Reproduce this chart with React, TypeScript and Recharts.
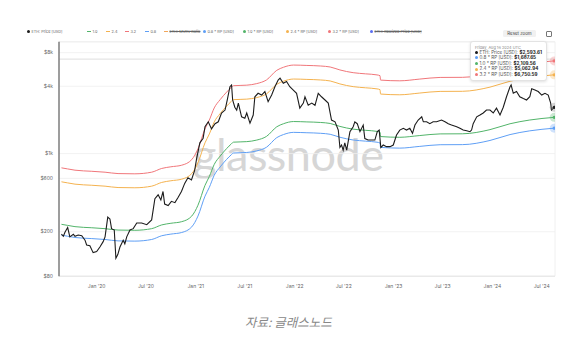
import React from 'react'
import { LineChart, Line, XAxis, YAxis, CartesianGrid, ReferenceLine } from 'recharts'

// ETH price [USD], every 10-12 days
const PRICE_DATES = [
  '2019-08-24', '2019-08-31', '2019-09-06', '2019-09-16', '2019-09-24', '2019-10-07', '2019-10-13', '2019-10-25',
  '2019-11-07', '2019-11-19', '2019-11-25', '2019-12-07', '2019-12-19', '2020-01-01', '2020-01-13', '2020-01-25',
  '2020-02-01', '2020-02-11', '2020-02-19', '2020-02-25', '2020-03-06', '2020-03-12', '2020-03-19', '2020-03-27',
  '2020-04-08', '2020-04-14', '2020-04-21', '2020-05-03', '2020-05-15', '2020-05-28', '2020-06-15', '2020-07-04',
  '2020-07-22', '2020-08-03', '2020-08-15', '2020-08-25', '2020-09-02', '2020-09-08', '2020-09-21', '2020-10-03',
  '2020-10-16', '2020-10-28', '2020-11-09', '2020-11-21', '2020-12-03', '2020-12-16', '2020-12-28', '2021-01-04',
  '2021-01-16', '2021-01-28', '2021-02-04', '2021-02-16', '2021-02-28', '2021-03-13', '2021-03-25', '2021-04-06',
  '2021-04-19', '2021-04-27', '2021-05-07', '2021-05-13', '2021-05-17', '2021-05-25', '2021-06-01', '2021-06-07',
  '2021-06-19', '2021-07-01', '2021-07-08', '2021-07-20', '2021-08-01', '2021-08-07', '2021-08-19', '2021-09-01',
  '2021-09-13', '2021-09-25', '2021-10-08', '2021-10-20', '2021-11-01', '2021-11-08', '2021-11-20', '2021-12-02',
  '2021-12-14', '2021-12-27', '2022-01-08', '2022-01-20', '2022-02-02', '2022-02-08', '2022-02-20', '2022-03-05',
  '2022-03-17', '2022-03-29', '2022-04-10', '2022-04-23', '2022-05-05', '2022-05-17', '2022-05-30', '2022-06-11',
  '2022-06-17', '2022-06-23', '2022-06-29', '2022-07-05', '2022-07-12', '2022-07-24', '2022-08-05', '2022-08-11',
  '2022-08-20', '2022-08-30', '2022-09-11', '2022-09-17', '2022-09-29', '2022-10-12', '2022-10-24', '2022-11-02',
  '2022-11-09', '2022-11-15', '2022-11-24', '2022-12-06', '2022-12-19', '2022-12-31', '2023-01-12', '2023-01-24',
  '2023-02-06', '2023-02-18', '2023-03-02', '2023-03-12', '2023-03-21', '2023-04-02', '2023-04-15', '2023-04-21',
  '2023-05-03', '2023-05-15', '2023-05-27', '2023-06-09', '2023-06-27', '2023-07-10', '2023-07-22', '2023-08-03',
  '2023-08-22', '2023-09-03', '2023-09-15', '2023-09-28', '2023-10-10', '2023-10-16', '2023-10-22', '2023-11-04',
  '2023-11-16', '2023-11-28', '2023-12-10', '2023-12-23', '2024-01-04', '2024-01-16', '2024-01-29', '2024-02-10',
  '2024-02-22', '2024-03-06', '2024-03-10', '2024-03-18', '2024-03-30', '2024-04-11', '2024-04-24', '2024-05-06',
  '2024-05-18', '2024-05-25', '2024-06-06', '2024-06-18', '2024-07-01', '2024-07-13', '2024-07-25', '2024-08-03',
  '2024-08-06', '2024-08-16',
]
const ETH_PRICE = [
  190, 182, 198, 218, 180, 190, 182, 187,
  184, 168, 152, 150, 130, 133, 146, 163,
  180, 270, 260, 213, 207, 116, 125, 146,
  168, 156, 180, 207, 213, 239, 239, 231,
  255, 395, 428, 385, 458, 354, 343, 374,
  364, 406, 458, 541, 608, 582, 712, 900,
  1248, 1373, 1737, 1924, 1664, 1851, 1924, 2309,
  2451, 3013, 3962, 4108, 3016, 2600, 2451, 2829,
  2132, 2070, 2309, 1872, 2212, 3224, 3463, 3338,
  3588, 2912, 3338, 3962, 4550, 4732, 4264, 4420,
  3962, 3702, 3463, 2548, 2829, 3224, 2704, 2829,
  2704, 3463, 3224, 3016, 2829, 1995, 1924, 1623,
  1134, 1193, 1075, 1248, 1075, 1570, 1737, 1924,
  1851, 1570, 1799, 1362, 1321, 1321, 1321, 1570,
  1623, 1134, 1193, 1154, 1154, 1193, 1466, 1623,
  1685, 1623, 1685, 1518, 1799, 1995, 2132, 1924,
  1924, 1851, 1924, 1924, 1995, 1924, 1851, 1799,
  1737, 1685, 1623, 1602, 1570, 1623, 1851, 2132,
  2212, 2309, 2451, 2451, 2309, 2548, 2212, 2600,
  3224, 3962, 4108, 3463, 3588, 3224, 3110, 3016,
  3224, 3796, 3702, 3588, 3338, 3463, 3338, 2829,
  2451, 2593.61,
]

// ETH realized price [USD]; the bands are multiples of it
const RP_DATES = [
  '2019-08-24', '2019-09-15', '2019-10-13', '2019-12-14', '2020-02-01', '2020-03-20', '2020-05-21', '2020-07-22',
  '2020-08-28', '2020-10-01', '2020-11-10', '2020-12-17', '2021-01-09', '2021-02-04', '2021-02-20', '2021-03-10',
  '2021-04-01', '2021-04-25', '2021-05-12', '2021-05-20', '2021-07-08', '2021-08-14', '2021-09-19', '2021-10-27',
  '2021-11-21', '2021-12-28', '2022-02-15', '2022-04-07', '2022-05-12', '2022-06-17', '2022-08-05', '2022-09-20',
  '2022-11-01', '2022-11-12', '2022-11-14', '2023-01-24', '2023-04-08', '2023-06-22', '2023-09-12', '2023-12-23',
  '2024-03-06', '2024-05-18', '2024-08-16',
]
const REALIZED_PRICE = [
  233, 228, 222, 217, 213, 207, 206, 213,
  230, 238, 246, 276, 345, 520, 624, 800,
  950, 1110, 1220, 1265, 1279, 1321, 1425, 1737,
  1851, 1935, 1920, 1898, 1860, 1750, 1654, 1615,
  1580, 1555, 1420, 1399, 1450, 1500, 1503, 1638,
  1849, 1997, 2109.56,
]

const BAND_MULTIPLIERS = [0.8, 1.0, 2.4, 3.2]
const BAND_KEYS = ['rp08', 'rp10', 'rp24', 'rp32']
const BAND_LABELS = ['0.8 * RP [USD]', '1.0 * RP [USD]', '2.4 * RP [USD]', '3.2 * RP [USD]']

const Y_TICKS = [80, 200, 600, 1000, 4000, 8000]
const Y_DOMAIN = [80, 10000]
const X_TICKS = ['2020-01-01', '2020-07-01', '2021-01-01', '2021-07-01', '2022-01-01', '2022-07-01', '2023-01-01', '2023-07-01', '2024-01-01', '2024-07-01']
const X_DOMAIN = ['2019-08-15', '2024-08-19']
const HOVER_PRICE = 7000
const TOOLTIP_TITLE = 'Friday, Aug 16 2024 UTC'

const PRICE_COLOR = '#1c1c1c'
const BAND_COLORS = ['#5f9ff5', '#52b46a', '#f4b24f', '#f0767a']
const FONT = 'Inter, "Liberation Sans", sans-serif'
const MONTHS = ['Jan', 'Feb', 'Mar', 'Apr', 'May', 'Jun', 'Jul', 'Aug', 'Sep', 'Oct', 'Nov', 'Dec']

const ts = (d: string) => Date.parse(d)

const priceData = PRICE_DATES.map((d, i) => ({ t: ts(d), price: ETH_PRICE[i] }))
const rpData = RP_DATES.map((d, i) => {
  const row: Record<string, number> = { t: ts(d), rp: REALIZED_PRICE[i] }
  BAND_KEYS.forEach((k, j) => { row[k] = REALIZED_PRICE[i] * BAND_MULTIPLIERS[j] })
  return row
})

const fmtX = (v: number) => {
  const d = new Date(v)
  return `${MONTHS[d.getUTCMonth()]} '${String(d.getUTCFullYear()).slice(2)}`
}
const fmtY = (v: number) => (v >= 1000 ? `$${v / 1000}k` : `$${v}`)
const fmtUsd = (v: number) =>
  '$' + v.toLocaleString('en-US', { minimumFractionDigits: 2, maximumFractionDigits: 2 })

function makeEndDot(lastIndex: number, color: string, halo: string) {
  return (props: any) => {
    const { cx, cy, index } = props
    if (index !== lastIndex || cx == null || cy == null) return <g key={`d${index}`} />
    return (
      <g key={`d${index}`}>
        <circle cx={cx} cy={cy} r={4.5} fill={halo} fillOpacity={0.3} />
        <circle cx={cx} cy={cy} r={1.6} fill={color} />
      </g>
    )
  }
}

// legend layout: [left px, kind, color, label, hidden]
const LEGEND_ITEMS: [number, 'dot' | 'line', string, string, boolean][] = [
  [27, 'dot', PRICE_COLOR, 'ETH: Price [USD]', false],
  [87, 'line', BAND_COLORS[1], '1.0', false],
  [106, 'line', BAND_COLORS[2], '2.4', false],
  [125, 'line', BAND_COLORS[3], '3.2', false],
  [145, 'line', BAND_COLORS[0], '0.8', false],
  [164, 'line', '#f2a65a', 'ETH: MVRV Ratio', true],
  [203, 'dot', BAND_COLORS[0], BAND_LABELS[0], false],
  [243, 'dot', BAND_COLORS[1], BAND_LABELS[1], false],
  [286, 'dot', BAND_COLORS[2], BAND_LABELS[2], false],
  [328, 'dot', BAND_COLORS[3], BAND_LABELS[3], false],
  [370, 'dot', '#5b6ef0', 'ETH: Realized Price [USD]', true],
]

function Legend() {
  return (
    <>
      {LEGEND_ITEMS.map(([left, kind, color, label, hidden]) => (
        <div
          key={label}
          style={{
            position: 'absolute', left, top: 29, height: 5, display: 'flex', alignItems: 'center',
            gap: 1.5, fontSize: 3.8, lineHeight: '5px', color: '#666', fontFamily: FONT, whiteSpace: 'nowrap',
          }}
        >
          {kind === 'dot'
            ? <span style={{ width: 3, height: 3, borderRadius: '50%', background: color, display: 'inline-block' }} />
            : <span style={{ width: 4, height: 0.8, background: color, display: 'inline-block' }} />}
          <span style={{ textDecoration: hidden ? 'line-through' : 'none' }}>{label}</span>
        </div>
      ))}
    </>
  )
}

function TooltipBox() {
  const lastRp = REALIZED_PRICE[REALIZED_PRICE.length - 1]
  const rows = [
    { color: PRICE_COLOR, label: 'ETH: Price [USD]', value: ETH_PRICE[ETH_PRICE.length - 1] },
    ...BAND_LABELS.map((label, j) => ({ color: BAND_COLORS[j], label, value: lastRp * BAND_MULTIPLIERS[j] })),
  ]
  return (
    <div
      style={{
        position: 'absolute', left: 470, top: 41, width: 67, padding: '2.5px 4px 3px', background: '#fff',
        border: '0.6px solid #e3e3e3', borderRadius: 3, boxShadow: '0 1px 3px rgba(0,0,0,0.12)', fontFamily: FONT,
      }}
    >
      <div style={{ fontSize: 3.9, lineHeight: '5px', color: '#888' }}>{TOOLTIP_TITLE}</div>
      {rows.map((r) => (
        <div key={r.label} style={{ display: 'flex', alignItems: 'center', gap: 1.5, fontSize: 4.6, lineHeight: '5.6px', whiteSpace: 'nowrap' }}>
          <span style={{ width: 3, height: 3, borderRadius: '50%', background: r.color, display: 'inline-block' }} />
          <span style={{ color: '#555' }}>{r.label}:</span>
          <span style={{ color: '#222', fontWeight: 700 }}>{fmtUsd(r.value)}</span>
        </div>
      ))}
    </div>
  )
}

export default function App() {
  const tick = { fontSize: 5, fill: '#666', fontFamily: FONT }
  return (
    <div style={{ position: 'absolute', left: 0, top: 0, width: 587, height: 344, background: '#fff', overflow: 'hidden' }}>
      {/* watermark */}
      <div
        style={{
          position: 'absolute', left: 193, top: 132, fontSize: 45, lineHeight: '45px', fontFamily: 'Lato, sans-serif',
          color: '#d6d6d6', letterSpacing: -0.5,
        }}
      >
        glassnode
      </div>

      <div style={{ position: 'absolute', left: 0, top: 0 }}>
        <LineChart width={587} height={300} margin={{ top: 41.8, right: 32, bottom: 7.8, left: 19 }}>
          <CartesianGrid vertical={false} stroke="#efefef" strokeWidth={0.8} />
          <XAxis
            type="number"
            dataKey="t"
            domain={X_DOMAIN.map(ts)}
            ticks={X_TICKS.map(ts)}
            tickFormatter={fmtX}
            allowDataOverflow
            height={16}
            tick={tick}
            tickLine={false}
            axisLine={{ stroke: '#e4e4e4' }}
          />
          <YAxis
            type="number"
            scale="log"
            domain={Y_DOMAIN}
            ticks={Y_TICKS}
            tickFormatter={fmtY}
            allowDataOverflow
            width={40}
            tick={tick}
            tickLine={false}
            tickSize={4}
            tickMargin={2}
            axisLine={{ stroke: '#7c7c7c', strokeWidth: 1.5 }}
          />
          <ReferenceLine y={Y_DOMAIN[1]} stroke="#ececec" strokeWidth={0.8} />
          <ReferenceLine x={ts(X_DOMAIN[1])} stroke="#ececec" strokeWidth={0.8} />
          <ReferenceLine y={HOVER_PRICE} stroke="#d6d6d6" strokeWidth={0.8} />
          {BAND_KEYS.map((k, j) => (
            <Line
              key={k}
              data={rpData}
              dataKey={k}
              type="monotone"
              stroke={BAND_COLORS[j]}
              strokeWidth={1}
              dot={makeEndDot(rpData.length - 1, BAND_COLORS[j], BAND_COLORS[j])}
              activeDot={false}
              isAnimationActive={false}
            />
          ))}
          <Line
            data={priceData}
            dataKey="price"
            type="linear"
            stroke={PRICE_COLOR}
            strokeWidth={1.1}
            dot={makeEndDot(priceData.length - 1, PRICE_COLOR, '#777')}
            activeDot={false}
            isAnimationActive={false}
          />
        </LineChart>
      </div>

      <Legend />

      {/* reset zoom button and menu icon */}
      <div
        style={{
          position: 'absolute', left: 503, top: 30, width: 33, height: 7.3, background: '#f1f1f1', borderRadius: 1.5,
          fontSize: 4.4, lineHeight: '7.3px', textAlign: 'center', color: '#444', fontFamily: FONT,
        }}
      >
        Reset zoom
      </div>
      <div
        style={{
          position: 'absolute', left: 546, top: 31, width: 4, height: 4, border: '0.8px solid #777', borderRadius: 1,
        }}
      />

      <TooltipBox />

      <div
        style={{
          position: 'absolute', left: 245, top: 313, fontSize: 12.5, lineHeight: '18px', fontStyle: 'italic',
          color: '#888', fontFamily: '"Noto Sans CJK KR", sans-serif', whiteSpace: 'nowrap',
        }}
      >
        자료: 글래스노드
      </div>
    </div>
  )
}
